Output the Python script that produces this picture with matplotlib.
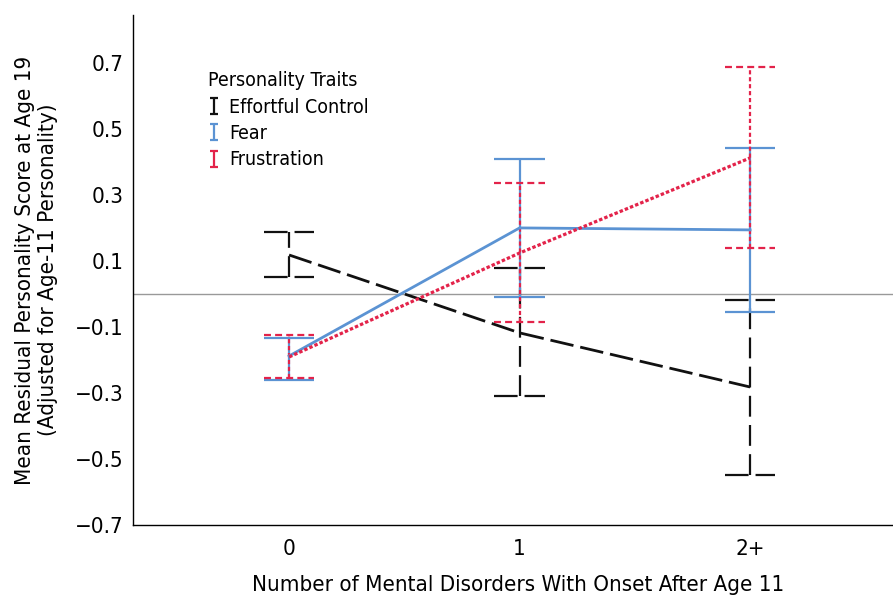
import matplotlib
matplotlib.use("Agg")
import matplotlib.pyplot as plt
from matplotlib.lines import Line2D
from matplotlib.path import Path

plt.rcParams['font.family'] = ['DejaVu Sans']
plt.rcParams['font.stretch'] = 'condensed'
plt.rcParams['lines.scale_dashes'] = False

groups = ['0', '1', '2+']
xpos = [0, 1, 2]

effortful_mean = [0.118, -0.118, -0.282]
effortful_hi = [0.188, 0.079, -0.018]
effortful_lo = [0.052, -0.309, -0.548]

fear_mean = [-0.188, 0.200, 0.194]
fear_hi = [-0.133, 0.409, 0.442]
fear_lo = [-0.261, -0.009, -0.055]

frust_mean = [-0.191, 0.124, 0.412]
frust_hi = [-0.124, 0.336, 0.688]
frust_lo = [-0.255, -0.085, 0.139]

black = '#111111'
blue = '#5b93d3'
red = '#e3234a'

fig = plt.figure(figsize=(8.93, 6.01), dpi=100)
ax = fig.add_axes([0.149, 0.1265, 0.851, 0.8485])

ax.axhline(0, color='#999999', lw=1.0, zorder=1)

cap = 0.11
series = [
    (effortful_mean, effortful_hi, effortful_lo, black, (0, (17, 5)), (0, (15, 6)), (0, (17, 5)), 2.0),
    (fear_mean, fear_hi, fear_lo, blue, '-', '-', '-', 2.0),
    (frust_mean, frust_hi, frust_lo, red, (0, (2.5, 1.5)), (0, (3, 2)), (0, (5, 3)), 2.3),
]
for mean, hi, lo, col, ls_line, ls_bar, ls_cap, lw in series:
    ax.vlines(xpos, lo, hi, colors=col, linestyles=[ls_bar], lw=1.6, zorder=2)
    ax.hlines(hi, [x - cap for x in xpos], [x + cap for x in xpos],
              colors=col, linestyles=[ls_cap], lw=1.6, zorder=2)
    ax.hlines(lo, [x - cap for x in xpos], [x + cap for x in xpos],
              colors=col, linestyles=[ls_cap], lw=1.6, zorder=2)
    ax.plot(xpos, mean, color=col, linestyle=ls_line, lw=lw, zorder=3)

ax.set_xlim(-0.677, 2.62)
ax.set_ylim(-0.7, 0.845)
ax.set_yticks([-0.7, -0.5, -0.3, -0.1, 0.1, 0.3, 0.5, 0.7])
ax.set_yticklabels(['\u22120.7', '\u22120.5', '\u22120.3', '\u22120.1', '0.1', '0.3', '0.5', '0.7'])
ax.set_xticks(xpos)
ax.set_xticklabels(groups)
ax.tick_params(length=0, labelsize=16)
ax.tick_params(axis='y', pad=7)
ax.tick_params(axis='x', pad=10)
for s in ['top', 'right']:
    ax.spines[s].set_visible(False)
for s in ['left', 'bottom']:
    ax.spines[s].set_linewidth(1.0)

fig.text(518 / 893, 1 - 585 / 601, 'Number of Mental Disorders With Onset After Age 11',
         fontsize=16, ha='center', va='center')
ax.set_ylabel('Mean Residual Personality Score at Age 19\n(Adjusted for Age-11 Personality)',
              fontsize=16, labelpad=12)

ibar = Path([(-0.5, 1), (0.5, 1), (0, 1), (0, -1), (-0.5, -1), (0.5, -1)],
            [Path.MOVETO, Path.LINETO, Path.MOVETO, Path.LINETO, Path.MOVETO, Path.LINETO])
handles = [Line2D([], [], color=c, marker=ibar, linestyle='none', markersize=12,
                  markeredgewidth=1.6, markerfacecolor='none')
           for c in [black, blue, red]]
leg = ax.legend(handles, ['Effortful Control', 'Fear', 'Frustration'],
                title='Personality Traits', loc='upper left', bbox_to_anchor=(0.088, 0.905),
                frameon=False, fontsize=14, title_fontsize=14, alignment='left',
                handlelength=0.6, handletextpad=0.5, labelspacing=0.38, borderaxespad=0)

fig.savefig('out.png', dpi=100)
